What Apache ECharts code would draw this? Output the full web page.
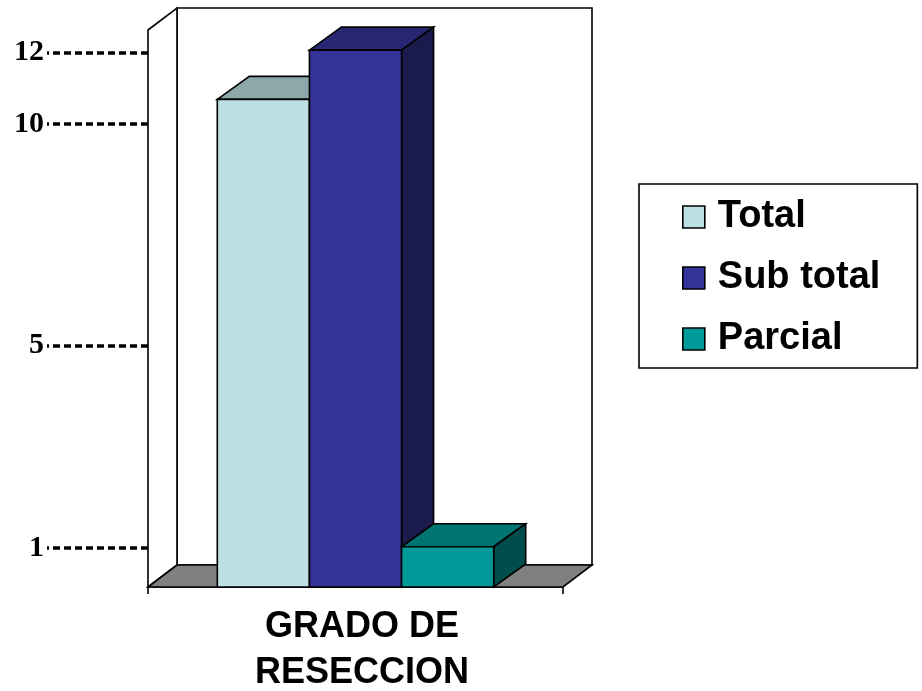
<!DOCTYPE html>
<html>
<head>
<meta charset="utf-8">
<script src="https://cdn.jsdelivr.net/npm/echarts@6/dist/echarts.min.js"></script>
<style>html,body{margin:0;padding:0;background:#fff}#c{width:922px;height:691px}</style>
</head>
<body>
<div id="c"></div>
<script>
// ---- data ----
var categories = ['GRADO DE\nRESECCION'];
var seriesNames = ['Total', 'Sub total', 'Parcial'];
var totalValues = [10.9];
var subtotalValues = [12];
var parcialValues = [0.9];
// hand-typed axis labels of the original and the levels (in axis units) at which they sit
var tickLabels = ['12', '10', '5', '1'];
var tickLevels = [11.95, 10.35, 5.4, 0.87];

// ---- styles ----
var faceColors = [
  { front: '#BCE0E3', top: '#8DA8AA', side: '#5E7072' },
  { front: '#333399', top: '#262673', side: '#1A1A4D' },
  { front: '#009999', top: '#007373', side: '#004D4D' }
];
var BAR_FRAC = 0.222;
var BAR_DX = 32, BAR_DY = -23;
var WALL_DX = 29, WALL_DY = -22;
var LW = 1.6;

var chart = echarts.init(document.getElementById('c'), null, { renderer: 'canvas' });

function frameRender(params, api) {
  var cs = params.coordSys;
  var x0 = cs.x, x1 = cs.x + cs.width, yt = cs.y, yb = cs.y + cs.height;
  var dx = WALL_DX, dy = WALL_DY;
  return {
    type: 'group',
    children: [
      { type: 'polygon', shape: { points: [[x0 + dx, yt + dy], [x1 + dx, yt + dy], [x1 + dx, yb + dy], [x0 + dx, yb + dy]] },
        style: { fill: '#fff', stroke: '#000', lineWidth: LW } },
      { type: 'polygon', shape: { points: [[x0, yt], [x0 + dx, yt + dy], [x0 + dx, yb + dy], [x0, yb]] },
        style: { fill: '#fff', stroke: '#000', lineWidth: LW } },
      { type: 'polygon', shape: { points: [[x0, yb], [x1, yb], [x1 + dx, yb + dy], [x0 + dx, yb + dy]] },
        style: { fill: '#808080', stroke: '#000', lineWidth: LW } }
    ]
  };
}

function barRender(i) {
  var c = faceColors[i];
  return function (params, api) {
    var cat = api.value(0), v = api.value(1);
    var base = api.coord([cat, 0]);
    var top = api.coord([cat, v]);
    var band = api.size([1, 0])[0];
    var w = band * BAR_FRAC;
    var x0 = base[0] + (i - 1.5) * w, x1 = x0 + w;
    var yb = base[1], yt = top[1];
    var dx = BAR_DX, dy = BAR_DY;
    return {
      type: 'group',
      children: [
        { type: 'polygon', shape: { points: [[x0, yt], [x1, yt], [x1 + dx, yt + dy], [x0 + dx, yt + dy]] },
          style: { fill: c.top, stroke: '#000', lineWidth: LW } },
        { type: 'polygon', shape: { points: [[x1, yb], [x1, yt], [x1 + dx, yt + dy], [x1 + dx, yb + dy]] },
          style: { fill: c.side, stroke: '#000', lineWidth: LW } },
        { type: 'rect', shape: { x: x0, y: yt, width: w, height: yb - yt },
          style: { fill: c.front, stroke: '#000', lineWidth: LW } }
      ]
    };
  };
}

var valueSets = [totalValues, subtotalValues, parcialValues];
var barSeries = seriesNames.map(function (name, i) {
  return {
    type: 'custom',
    name: name,
    z: 3 + i,
    itemStyle: { color: faceColors[i].front },
    renderItem: barRender(i),
    data: categories.map(function (c, k) { return [k, valueSets[i][k]]; })
  };
});

var option = {
  backgroundColor: '#fff',
  animation: false,
  grid: { left: 148, top: 30, width: 415, height: 557, containLabel: false, outerBoundsMode: 'none' },
  xAxis: {
    type: 'category',
    data: categories,
    axisLine: { show: true, lineStyle: { color: '#000', width: LW } },
    axisTick: { show: true, length: 7, lineStyle: { color: '#000', width: LW } },
    axisLabel: {
      margin: 17, color: '#000', fontFamily: 'Liberation Sans', fontWeight: 'bold',
      fontSize: 36, lineHeight: 46, padding: [0, 0, 0, 13]
    },
    splitLine: { show: false }
  },
  yAxis: {
    type: 'value',
    min: 0, max: 12.45,
    axisLine: { show: false },
    splitLine: { show: false },
    axisTick: {
      show: true, inside: false, length: 101, customValues: tickLevels,
      lineStyle: { color: '#000', width: 3.5, type: [7, 4] }
    },
    axisLabel: {
      show: true, margin: 104, customValues: tickLevels, color: '#000',
      fontFamily: 'Liberation Serif', fontWeight: 'bold', fontSize: 30,
      formatter: function (val) {
        var best = 0, d = Infinity;
        for (var k = 0; k < tickLevels.length; k++) {
          var dd = Math.abs(tickLevels[k] - val);
          if (dd < d) { d = dd; best = k; }
        }
        return tickLabels[best];
      }
    }
  },
  legend: {
    orient: 'vertical',
    left: 639, top: 184,
    padding: [14, 37, 10, 43],
    borderColor: '#000', borderWidth: LW,
    itemWidth: 22, itemHeight: 22, itemGap: 23,
    icon: 'rect',
    selectedMode: false,
    itemStyle: { borderColor: '#000', borderWidth: LW },
    textStyle: { fontFamily: 'Liberation Sans', fontWeight: 'bold', fontSize: 38, lineHeight: 38, color: '#000', padding: [0, 0, 0, 8] },
    data: seriesNames.map(function (n, i) { return { name: n, itemStyle: { color: faceColors[i].front, borderColor: '#000', borderWidth: LW } }; })
  },
  series: [{
    type: 'custom',
    name: 'frame',
    z: 1,
    silent: true,
    renderItem: frameRender,
    data: [[0, 0]]
  }].concat(barSeries)
};
chart.setOption(option);
</script>
</body>
</html>
